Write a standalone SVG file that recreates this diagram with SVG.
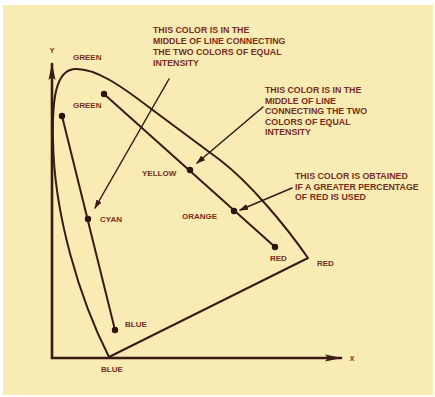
<svg xmlns="http://www.w3.org/2000/svg" width="435" height="397" viewBox="0 0 435 397">
  <style>
    .ln{fill:none;stroke:#3a1a12;stroke-linecap:round;stroke-linejoin:round}
    .ax{stroke-width:2.6}
    .cv{stroke-width:2}
    .ar{stroke-width:1.5}
    .dot{fill:#2e140d}
    text{font-family:"Liberation Sans",Arial,sans-serif;font-weight:bold;fill:#7a2e1c}
    .lb{font-size:8px}
    .nt{font-size:8.8px}
  </style>
  <defs>
    <marker id="ah" markerUnits="userSpaceOnUse" markerWidth="9" markerHeight="7" refX="8" refY="3.5" orient="auto">
      <path d="M0,0.5 L9,3.5 L0,6.5 z" fill="#3a1a12"/>
    </marker>
    <marker id="axh" markerUnits="userSpaceOnUse" markerWidth="18" markerHeight="8" refX="16" refY="4" orient="auto">
      <path d="M0,0.5 L17,4 L0,7.5 L3,4 z" fill="#3a1a12"/>
    </marker>
  </defs>
  <rect x="0" y="0" width="435" height="397" fill="#ffffff"/>
  <rect x="3" y="5" width="430" height="390" fill="#f8ebb4"/>

  <g id="axes">
    <path class="ln ax" d="M52,358 L52,64" marker-end="url(#axh)"/>
    <path class="ln ax" d="M52,358 L341,358" marker-end="url(#axh)"/>
    <text class="lb" x="52" y="53" text-anchor="middle" style="font-size:7px">Y</text>
    <text class="lb" x="352" y="361" text-anchor="middle" style="font-size:7px">X</text>
  </g>

  <g id="gamut">
    <path class="ln cv" d="M109,357 C80,300 54,215 53,140 C52,98 56,70 75,69 C95,68 120,85 150,108 L220,160 C250,183 285,225 308,258 Z"/>
  </g>

  <g id="connectors">
    <path class="ln cv" d="M104,94 L275,247"/>
    <path class="ln cv" d="M62,116 L115,330"/>
    <path class="ln ar" d="M169,79 L95,208" marker-end="url(#ah)"/>
    <path class="ln ar" d="M263,107 L197,163" marker-end="url(#ah)"/>
    <path class="ln ar" d="M292,188 L240,210" marker-end="url(#ah)"/>
  </g>

  <g id="green-outer"><text class="lb" x="73" y="60">GREEN</text></g>
  <g id="green-inner"><circle class="dot" cx="104" cy="94" r="3.2"/><text class="lb" x="73" y="108">GREEN</text></g>
  <g id="green-left"><circle class="dot" cx="62" cy="116" r="3.2"/></g>
  <g id="yellow"><circle class="dot" cx="190" cy="170" r="3.2"/><text class="lb" x="142" y="176">YELLOW</text></g>
  <g id="orange"><circle class="dot" cx="234" cy="211" r="3.2"/><text class="lb" x="182" y="219">ORANGE</text></g>
  <g id="red-inner"><circle class="dot" cx="275" cy="247" r="3.2"/><text class="lb" x="270" y="261">RED</text></g>
  <g id="red-outer"><text class="lb" x="317" y="266">RED</text></g>
  <g id="cyan"><circle class="dot" cx="88" cy="219" r="3.2"/><text class="lb" x="100" y="222">CYAN</text></g>
  <g id="blue-inner"><circle class="dot" cx="115" cy="330" r="3.2"/><text class="lb" x="125" y="327">BLUE</text></g>
  <g id="blue-outer"><text class="lb" x="101" y="372">BLUE</text></g>

  <g id="note-cyan">
    <text class="nt" x="153" y="33">THIS COLOR IS IN THE</text>
    <text class="nt" x="153" y="44">MIDDLE OF LINE CONNECTING</text>
    <text class="nt" x="153" y="55">THE TWO COLORS OF EQUAL</text>
    <text class="nt" x="153" y="66">INTENSITY</text>
  </g>
  <g id="note-yellow">
    <text class="nt" x="265" y="93">THIS COLOR IS IN THE</text>
    <text class="nt" x="265" y="103.5">MIDDLE OF LINE</text>
    <text class="nt" x="265" y="114">CONNECTING THE TWO</text>
    <text class="nt" x="265" y="124.5">COLORS OF EQUAL</text>
    <text class="nt" x="265" y="135">INTENSITY</text>
  </g>
  <g id="note-orange">
    <text class="nt" x="295" y="179">THIS COLOR IS OBTAINED</text>
    <text class="nt" x="295" y="189.5">IF A GREATER PERCENTAGE</text>
    <text class="nt" x="295" y="200">OF RED IS USED</text>
  </g>
</svg>
